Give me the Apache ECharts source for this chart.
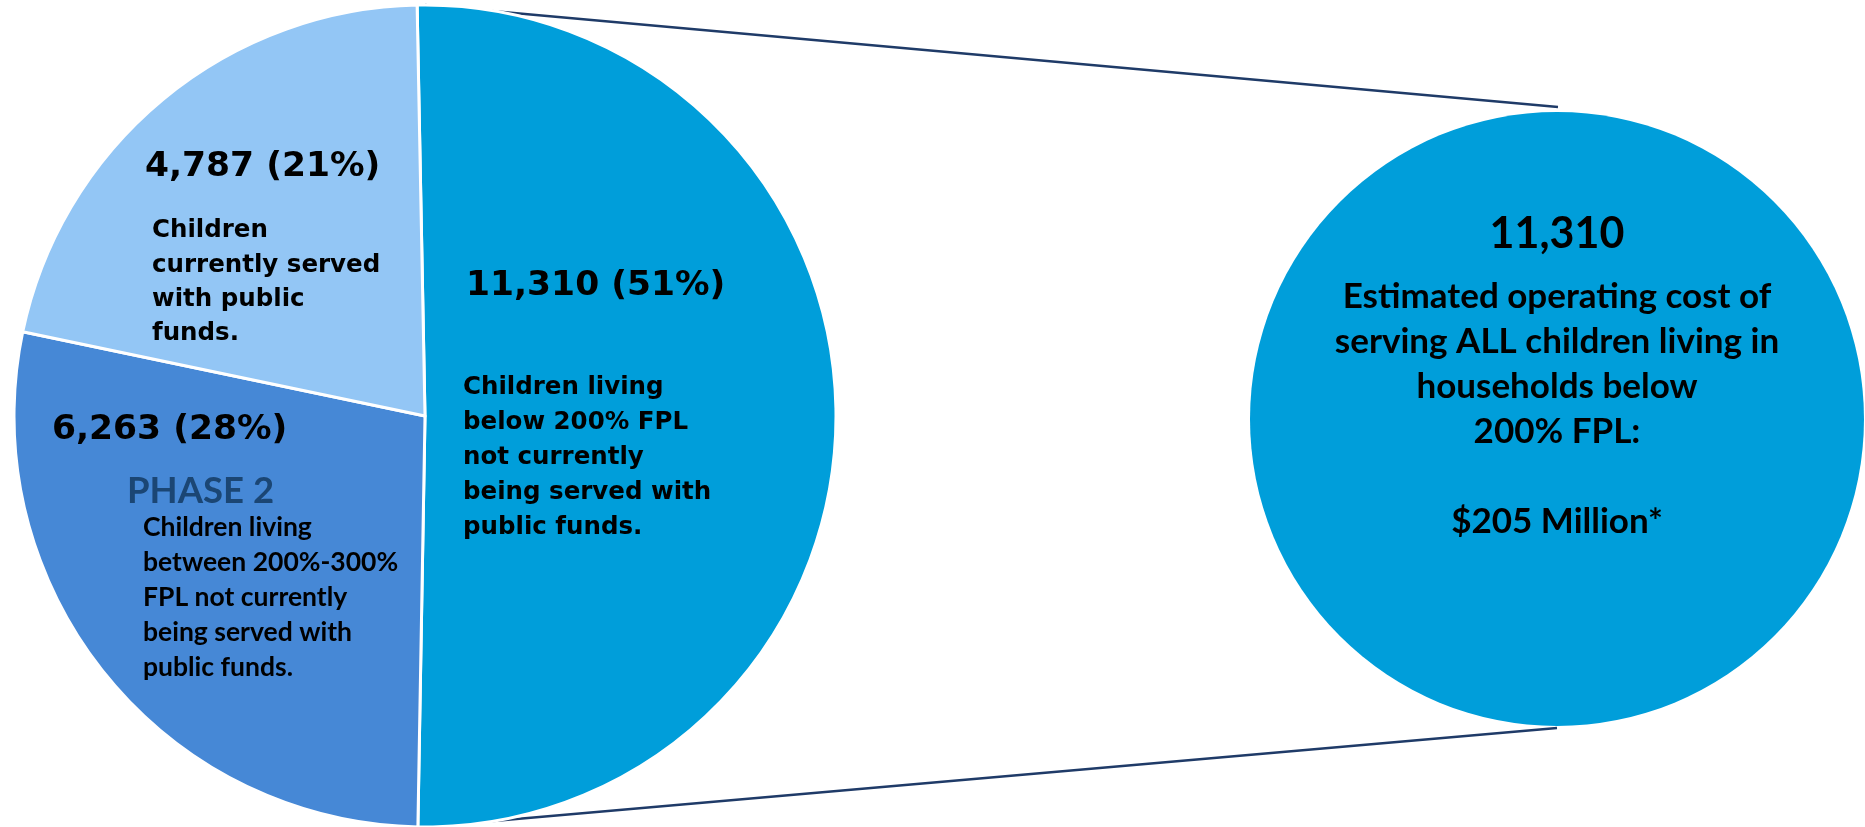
<!DOCTYPE html>
<html><head><meta charset="utf-8">
<script src="https://cdn.jsdelivr.net/npm/echarts@6/dist/echarts.min.js"></script>
<style>html,body{margin:0;padding:0;background:#fff}#c{width:1865px;height:827px}</style>
</head><body><div id="c"></div>
<script>
// ---- data ----
const sliceNames = ['Below 200% FPL not served', 'Between 200%-300% FPL (Phase 2)', 'Currently served with public funds'];
const sliceValues = [11310, 6263, 4787];
const sliceHeadings = ['11,310 (51%)', '6,263 (28%)', '4,787 (21%)'];
const sliceDescriptions = [
  ['Children living', 'below 200% FPL', 'not currently', 'being served with', 'public funds.'],
  ['Children living', 'between 200%-300%', 'FPL not currently', 'being served with', 'public funds.'],
  ['Children', 'currently served', 'with public', 'funds.']
];
const phaseLabel = 'PHASE 2';
const zoomValue = 11310;
const zoomHeading = '11,310';
const zoomLines = ['Estimated operating cost of', 'serving ALL children living in', 'households below', '200% FPL:', '', '$205 Million*'];

// ---- layout ----
const colors = ['#009EDA', '#4688D6', '#93C6F5'];
const pieC = [425, 416], pieR = 411;
const zC = [1557, 419], zR = 307;
const gothic = '"DejaVu Sans", sans-serif';
const calibri = 'Lato, "Noto Sans", sans-serif';

const chart = echarts.init(document.getElementById('c'));

function block(x, y, lines, size, lh, family, align) {
  return {
    type: 'text', z: 10,
    style: {
      text: lines.join('\n'), x: x, y: y - lh / 2,
      font: 'bold ' + size + 'px ' + family, fill: '#000',
      lineHeight: lh, align: align || 'left', verticalAlign: 'top'
    }
  };
}

const graphics = [
  {type: 'line', z: 1, shape: {x1: 425, y1: 5, x2: 1558, y2: 107}, style: {stroke: '#1F3B68', lineWidth: 2.5}},
  {type: 'line', z: 1, shape: {x1: 425, y1: 827, x2: 1557, y2: 728}, style: {stroke: '#1F3B68', lineWidth: 2.5}},
  // dark slice
  block(466, 286, [sliceHeadings[0]], 34.5, 40, gothic),
  block(463, 388, sliceDescriptions[0], 24.5, 34.8, gothic),
  // medium slice
  block(52, 430, [sliceHeadings[1]], 34.5, 40, gothic),
  {type: 'text', z: 10, style: {text: phaseLabel, x: 127, y: 491, font: 'bold 36.5px ' + calibri, fill: '#1B4674', align: 'left', verticalAlign: 'middle'}},
  block(143, 527, sliceDescriptions[1], 26.5, 35.2, calibri),
  // light slice
  block(145, 167, [sliceHeadings[2]], 34.5, 40, gothic),
  block(152, 231, sliceDescriptions[2], 24.5, 34.2, gothic),
  // zoom circle
  block(1557, 234, [zoomHeading], 43, 50, calibri, 'center'),
  block(1557, 297, zoomLines, 35, 45, calibri, 'center')
];

chart.setOption({
  animation: false,
  series: [
    {
      type: 'pie', center: pieC, radius: pieR, startAngle: 91.1, clockwise: true,
      label: {show: false}, labelLine: {show: false}, silent: true,
      itemStyle: {borderColor: '#fff', borderWidth: 3},
      data: sliceValues.map((v, i) => ({name: sliceNames[i], value: v, itemStyle: {color: colors[i]}}))
    },
    {
      type: 'pie', center: zC, radius: zR, label: {show: false}, silent: true,
      data: [{name: 'Below 200% FPL', value: zoomValue, itemStyle: {color: colors[0]}}]
    }
  ],
  graphic: graphics
});
</script></body></html>
